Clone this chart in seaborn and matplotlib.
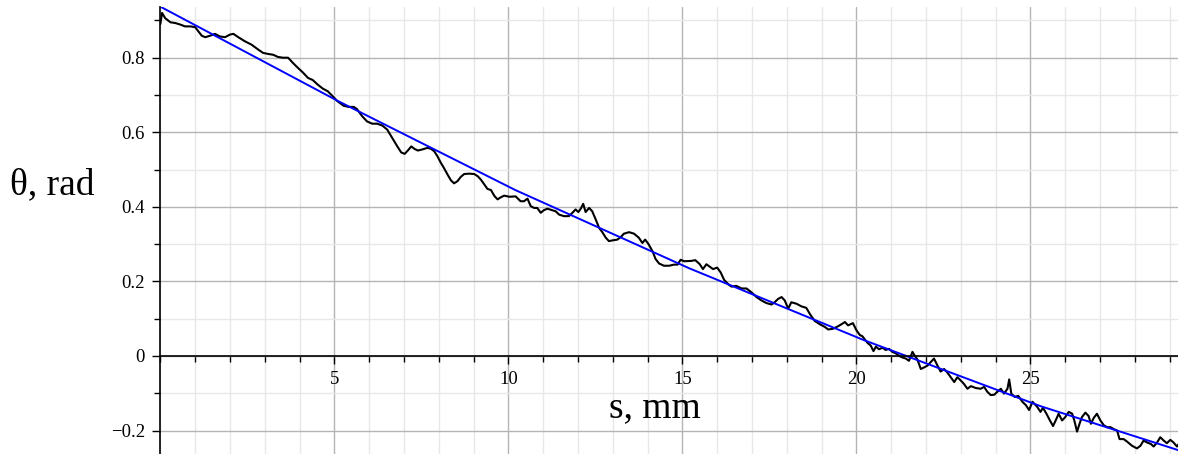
import matplotlib
matplotlib.use('Agg')
import matplotlib.pyplot as plt
from matplotlib.ticker import MultipleLocator, FixedLocator
import seaborn as sns
import pandas as pd

# --- data ---
# measured angle along the arc (black curve)
s_meas = [
    0.00, 0.05, 0.14, 0.29, 0.43, 0.57, 0.71, 0.86, 1.00, 1.10, 1.19, 1.29, 1.43, 1.57, 1.71, 1.86,
    2.00, 2.10, 2.24, 2.43, 2.62, 2.81, 2.95, 3.10, 3.24, 3.38, 3.52, 3.67, 3.81, 3.95, 4.10, 4.24,
    4.38, 4.52, 4.67, 4.81, 4.95, 5.08, 5.27, 5.41, 5.56, 5.65, 5.80, 5.94, 6.09, 6.23, 6.38, 6.52,
    6.66, 6.81, 6.92, 7.02, 7.12, 7.21, 7.31, 7.40, 7.53, 7.67, 7.77, 7.87, 7.96, 8.06, 8.15, 8.25,
    8.35, 8.44, 8.54, 8.63, 8.73, 8.87, 9.02, 9.12, 9.21, 9.31, 9.40, 9.50, 9.60, 9.69, 9.79, 9.88,
    10.03, 10.21, 10.35, 10.45, 10.55, 10.64, 10.74, 10.83, 10.93, 11.02, 11.12, 11.26, 11.36, 11.46,
    11.60, 11.74, 11.84, 11.93, 12.01, 12.08, 12.15, 12.22, 12.32, 12.41, 12.51, 12.61, 12.70, 12.80,
    12.89, 12.99, 13.13, 13.23, 13.32, 13.47, 13.61, 13.75, 13.85, 13.93, 14.02, 14.14, 14.23, 14.33,
    14.47, 14.62, 14.76, 14.86, 14.95, 15.05, 15.26, 15.37, 15.50, 15.59, 15.69, 15.79, 15.88, 16.00,
    16.10, 16.20, 16.31, 16.41, 16.55, 16.70, 16.84, 16.98, 17.13, 17.27, 17.41, 17.56, 17.65, 17.75,
    17.85, 17.94, 18.04, 18.13, 18.28, 18.42, 18.56, 18.66, 18.80, 18.95, 19.09, 19.19, 19.33, 19.48,
    19.57, 19.67, 19.76, 19.90, 20.00, 20.10, 20.17, 20.32, 20.41, 20.49, 20.56, 20.65, 20.75, 20.84,
    20.94, 21.03, 21.13, 21.23, 21.32, 21.42, 21.51, 21.61, 21.68, 21.75, 21.85, 21.94, 22.04, 22.14,
    22.23, 22.33, 22.42, 22.52, 22.61, 22.71, 22.81, 22.90, 23.00, 23.09, 23.19, 23.29, 23.43, 23.57,
    23.67, 23.76, 23.86, 23.96, 24.05, 24.15, 24.24, 24.34, 24.39, 24.45, 24.55, 24.65, 24.77, 24.87,
    24.96, 25.06, 25.19, 25.29, 25.36, 25.46, 25.56, 25.65, 25.75, 25.81, 25.91, 26.00, 26.10, 26.20,
    26.26, 26.34, 26.41, 26.48, 26.58, 26.67, 26.74, 26.82, 26.91, 27.01, 27.11, 27.20, 27.30, 27.41,
    27.49, 27.56, 27.68, 27.78, 27.92, 28.06, 28.16, 28.25, 28.35, 28.46, 28.54, 28.64, 28.73, 28.83,
    28.92, 29.02, 29.11, 29.21, 29.26,
]
theta_meas = [
    0.890, 0.920, 0.906, 0.895, 0.893, 0.889, 0.884, 0.884, 0.882, 0.870, 0.859, 0.855, 0.859, 0.864, 0.857, 0.855,
    0.862, 0.864, 0.855, 0.844, 0.835, 0.822, 0.813, 0.810, 0.808, 0.802, 0.800, 0.800, 0.786, 0.773, 0.760, 0.746,
    0.740, 0.728, 0.717, 0.710, 0.697, 0.684, 0.671, 0.668, 0.668, 0.662, 0.643, 0.629, 0.623, 0.623, 0.618, 0.607,
    0.585, 0.562, 0.546, 0.542, 0.552, 0.562, 0.555, 0.551, 0.554, 0.558, 0.556, 0.549, 0.536, 0.518, 0.504, 0.487,
    0.471, 0.463, 0.469, 0.480, 0.488, 0.489, 0.488, 0.482, 0.473, 0.460, 0.448, 0.445, 0.429, 0.420, 0.426, 0.430,
    0.427, 0.428, 0.415, 0.415, 0.422, 0.402, 0.397, 0.397, 0.384, 0.391, 0.395, 0.391, 0.388, 0.379,
    0.375, 0.375, 0.384, 0.393, 0.386, 0.395, 0.408, 0.386, 0.397, 0.388, 0.366, 0.343, 0.332, 0.317,
    0.308, 0.310, 0.312, 0.319, 0.328, 0.332, 0.328, 0.317, 0.303, 0.312, 0.301, 0.281, 0.260, 0.248,
    0.242, 0.242, 0.245, 0.245, 0.258, 0.254, 0.255, 0.257, 0.246, 0.233, 0.246, 0.239, 0.233, 0.237,
    0.224, 0.204, 0.193, 0.186, 0.188, 0.181, 0.181, 0.171, 0.158, 0.149, 0.142, 0.138, 0.144, 0.153,
    0.158, 0.149, 0.127, 0.144, 0.140, 0.133, 0.129, 0.113, 0.094, 0.085, 0.078, 0.071, 0.073, 0.080,
    0.085, 0.091, 0.082, 0.088, 0.069, 0.056, 0.053, 0.035, 0.028, 0.013, 0.025, 0.018, 0.022, 0.016,
    0.019, 0.011, 0.007, 0.000, -0.004, -0.007, -0.013, 0.011, 0.000, -0.009, -0.035, -0.031, -0.026, -0.016,
    -0.007, -0.026, -0.042, -0.035, -0.044, -0.057, -0.070, -0.057, -0.066, -0.075, -0.088, -0.081, -0.086, -0.088,
    -0.083, -0.096, -0.105, -0.104, -0.096, -0.088, -0.101, -0.088, -0.063, -0.101, -0.110, -0.107, -0.123, -0.132,
    -0.145, -0.123, -0.136, -0.150, -0.139, -0.155, -0.173, -0.188, -0.168, -0.155, -0.173, -0.164, -0.150, -0.155,
    -0.173, -0.203, -0.182, -0.164, -0.152, -0.161, -0.182, -0.166, -0.155, -0.173, -0.186, -0.191, -0.191, -0.197,
    -0.200, -0.223, -0.223, -0.230, -0.241, -0.248, -0.241, -0.227, -0.232, -0.236, -0.243, -0.232, -0.218, -0.227,
    -0.234, -0.225, -0.232, -0.243, -0.236,
]

# fitted curve (blue)
s_fit = [0.0, 5.1, 10.2, 15.2, 20.2, 25.3, 29.26]
theta_fit = [0.937, 0.684, 0.445, 0.235, 0.043, -0.135, -0.253]

x_ticks = [5, 10, 15, 20, 25]
x_tick_labels = ['5', '10', '15', '20', '25']
y_ticks = [-0.2, 0, 0.2, 0.4, 0.6, 0.8]
y_tick_labels = ['\u22120.2', '0', '0.2', '0.4', '0.6', '0.8']

df_meas = pd.DataFrame({'s': s_meas, 'theta': theta_meas})
df_fit = pd.DataFrame({'s': s_fit, 'theta': theta_fit})

# --- figure ---
sns.set_style("white")
plt.rcParams['font.family'] = ['Liberation Serif', 'DejaVu Serif']
plt.rcParams['text.color'] = 'black'
plt.rcParams['axes.labelcolor'] = 'black'
plt.rcParams['xtick.color'] = 'black'
plt.rcParams['ytick.color'] = 'black'

fig = plt.figure(figsize=(11.78, 4.54), dpi=100)
ax = fig.add_axes([0.1361, 0.0, 0.8639, 447 / 454])

sns.lineplot(data=df_meas, x='s', y='theta', ax=ax, color='black', linewidth=1.5,
             estimator=None, sort=False, zorder=3)
sns.lineplot(data=df_fit, x='s', y='theta', ax=ax, color='#0000ff', linewidth=1.4,
             estimator=None, sort=False, zorder=4)

ax.set_xlim(0, 29.24)
ax.set_ylim(-0.263, 0.936)

# axes through the origin, Maple style
ax.spines['left'].set_position(('data', 0))
ax.spines['bottom'].set_position(('data', 0))
ax.spines['top'].set_visible(False)
ax.spines['right'].set_visible(False)
for sp in ('left', 'bottom'):
    ax.spines[sp].set_color('black')
    ax.spines[sp].set_linewidth(1.2)
    ax.spines[sp].set_zorder(5)

ax.xaxis.set_major_locator(FixedLocator(x_ticks))
ax.set_xticklabels(x_tick_labels)
ax.xaxis.set_minor_locator(MultipleLocator(1))
ax.yaxis.set_major_locator(FixedLocator(y_ticks))
ax.set_yticklabels(y_tick_labels)
ax.yaxis.set_minor_locator(MultipleLocator(0.1))

ax.tick_params(which='both', direction='out', colors='black', width=1.0, labelsize=13.5,
               bottom=True, left=True)
ax.tick_params(which='major', length=6, pad=5)
ax.tick_params(which='minor', length=4.5)

ax.grid(which='major', color='#b4b4b4', linewidth=1.0)
ax.grid(which='minor', color='#e8e8e8', linewidth=1.0)
ax.set_axisbelow(True)

ax.set_xlabel('s, mm', fontsize=27, va='center', color='black')
ax.xaxis.set_label_coords(0.486, 0.103)
ax.set_ylabel('\u03b8, rad', fontsize=27, rotation=0, ha='center', va='center', color='black')
ax.yaxis.set_label_coords(-0.106, 0.602)

fig.savefig('out.png', dpi=100)
